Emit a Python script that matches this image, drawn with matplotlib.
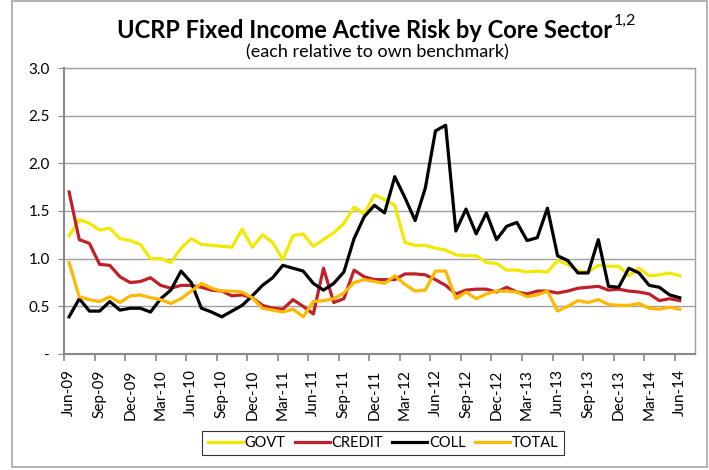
import numpy as np
import matplotlib
matplotlib.use('Agg')
import matplotlib.pyplot as plt
from matplotlib.patches import Rectangle
from matplotlib.ticker import FuncFormatter

plt.rcParams['font.family'] = ['Lato', 'DejaVu Sans']

# monthly, Jun-09 .. Jun-14
months = ['Jun-09', 'Jul-09', 'Aug-09', 'Sep-09', 'Oct-09', 'Nov-09', 'Dec-09', 'Jan-10', 'Feb-10', 'Mar-10',
          'Apr-10', 'May-10', 'Jun-10', 'Jul-10', 'Aug-10', 'Sep-10', 'Oct-10', 'Nov-10', 'Dec-10', 'Jan-11',
          'Feb-11', 'Mar-11', 'Apr-11', 'May-11', 'Jun-11', 'Jul-11', 'Aug-11', 'Sep-11', 'Oct-11', 'Nov-11',
          'Dec-11', 'Jan-12', 'Feb-12', 'Mar-12', 'Apr-12', 'May-12', 'Jun-12', 'Jul-12', 'Aug-12', 'Sep-12',
          'Oct-12', 'Nov-12', 'Dec-12', 'Jan-13', 'Feb-13', 'Mar-13', 'Apr-13', 'May-13', 'Jun-13', 'Jul-13',
          'Aug-13', 'Sep-13', 'Oct-13', 'Nov-13', 'Dec-13', 'Jan-14', 'Feb-14', 'Mar-14', 'Apr-14', 'May-14',
          'Jun-14']

govt = [1.24, 1.41, 1.37, 1.30, 1.32, 1.21, 1.19, 1.15, 1.00, 1.00, 0.96,
        1.11, 1.21, 1.15, 1.14, 1.13, 1.12, 1.31, 1.12, 1.25, 1.17,
        0.99, 1.24, 1.26, 1.13, 1.20, 1.27, 1.37, 1.54, 1.47, 1.67,
        1.62, 1.56, 1.17, 1.14, 1.14, 1.11, 1.09, 1.04, 1.03, 1.03, 0.96,
        0.95, 0.88, 0.88, 0.86, 0.87, 0.86, 0.98, 0.94, 0.87, 0.86,
        0.93, 0.92, 0.92, 0.82, 0.90, 0.82, 0.83, 0.85, 0.82]

credit = [1.70, 1.20, 1.16, 0.94, 0.93, 0.81, 0.75, 0.76, 0.80, 0.72, 0.69,
          0.72, 0.72, 0.70, 0.67, 0.66, 0.61, 0.62, 0.59, 0.51, 0.48,
          0.47, 0.57, 0.50, 0.42, 0.90, 0.54, 0.58, 0.88, 0.81, 0.78,
          0.78, 0.78, 0.84, 0.84, 0.83, 0.78, 0.72, 0.63, 0.67, 0.68, 0.68,
          0.65, 0.70, 0.65, 0.63, 0.66, 0.66, 0.64, 0.66, 0.69, 0.70,
          0.71, 0.67, 0.68, 0.66, 0.65, 0.63, 0.56, 0.58, 0.56]

coll = [0.39, 0.58, 0.45, 0.45, 0.55, 0.46, 0.48, 0.48, 0.44, 0.58, 0.67,
        0.87, 0.75, 0.48, 0.44, 0.39, 0.45, 0.51, 0.61, 0.72, 0.80,
        0.93, 0.90, 0.87, 0.74, 0.67, 0.74, 0.86, 1.21, 1.44, 1.56,
        1.48, 1.86, 1.64, 1.40, 1.74, 2.34, 2.40, 1.29, 1.52, 1.26, 1.48,
        1.20, 1.34, 1.38, 1.19, 1.22, 1.53, 1.03, 0.98, 0.85, 0.85,
        1.20, 0.71, 0.70, 0.90, 0.85, 0.72, 0.70, 0.62, 0.59]

total = [0.96, 0.60, 0.57, 0.55, 0.60, 0.54, 0.61, 0.62, 0.59, 0.57, 0.53,
         0.58, 0.66, 0.74, 0.69, 0.66, 0.66, 0.65, 0.59, 0.48, 0.46,
         0.44, 0.47, 0.39, 0.55, 0.56, 0.58, 0.64, 0.75, 0.78, 0.76,
         0.74, 0.82, 0.73, 0.66, 0.67, 0.87, 0.87, 0.58, 0.65, 0.58, 0.63,
         0.66, 0.66, 0.65, 0.60, 0.62, 0.66, 0.45, 0.50, 0.56, 0.54,
         0.57, 0.52, 0.51, 0.51, 0.53, 0.48, 0.47, 0.49, 0.47]

x = np.arange(len(months))

fig = plt.figure(figsize=(7.09, 4.70), dpi=100)
ax = fig.add_axes([64/709, 1-354/470, (695-64)/709, (354-68)/470])

ax.plot(x, govt, color='#F2E800', lw=2.3, label='GOVT')
ax.plot(x, credit, color='#C0202A', lw=2.3, label='CREDIT')
ax.plot(x, coll, color='black', lw=2.3, label='COLL')
ax.plot(x, total, color='#FFB800', lw=2.3, label='TOTAL')

# one empty category slot after Jun-14, like the original
ax.set_xlim(-0.5, len(months) + 0.5)
ax.set_ylim(0, 3.0)
ax.set_yticks(np.arange(0, 3.01, 0.5))
ax.yaxis.set_major_formatter(FuncFormatter(lambda v, p: '-' if v == 0 else '%.1f' % v))
ax.grid(axis='y', color='#A0A0A0', lw=1.0)
ax.set_axisbelow(True)

ax.set_xticks(x[::3])
ax.set_xticklabels(months[::3], rotation=90)
ax.set_xticks(np.arange(-0.5, len(months), 3), minor=True)
ax.tick_params(axis='x', which='major', length=0, pad=11, labelsize=11)
ax.tick_params(axis='x', which='minor', length=5, color='#888888', width=1.2)
ax.tick_params(axis='y', length=4, color='#888888', labelsize=11, pad=6)

for s in ['left', 'bottom']:
    ax.spines[s].set_color('#888888')
    ax.spines[s].set_linewidth(1.5)
for s in ['top', 'right']:
    ax.spines[s].set_color('#A0A0A0')
    ax.spines[s].set_linewidth(1.0)

title = fig.text(365/709, 1-31/470, 'UCRP Fixed Income Active Risk by Core Sector',
                 ha='center', va='center', fontsize=17, fontweight='bold')
ax.annotate('1,2', xy=(1.0, 0.62), xycoords=title, xytext=(0.5, 0), textcoords='offset points',
            ha='left', va='bottom', fontsize=11.5)
fig.text(377/709, 1-52/470, '(each relative to own benchmark)', ha='center', va='center', fontsize=13)

leg = fig.legend(loc='center', bbox_to_anchor=(383/709, 1-443/470), ncol=4, fontsize=10.5,
                 frameon=True, fancybox=False, edgecolor='black', handlelength=2.4,
                 handletextpad=0.15, columnspacing=0.6, borderpad=0.35)
leg.get_frame().set_linewidth(0.8)

# light outer frame of the chart
fig.patches.append(Rectangle((12/709, 3/470), (707-12)/709, (469-3)/470, transform=fig.transFigure,
                             fill=False, edgecolor='#A6A6A6', lw=1.2))

fig.savefig('out.png', dpi=100)
